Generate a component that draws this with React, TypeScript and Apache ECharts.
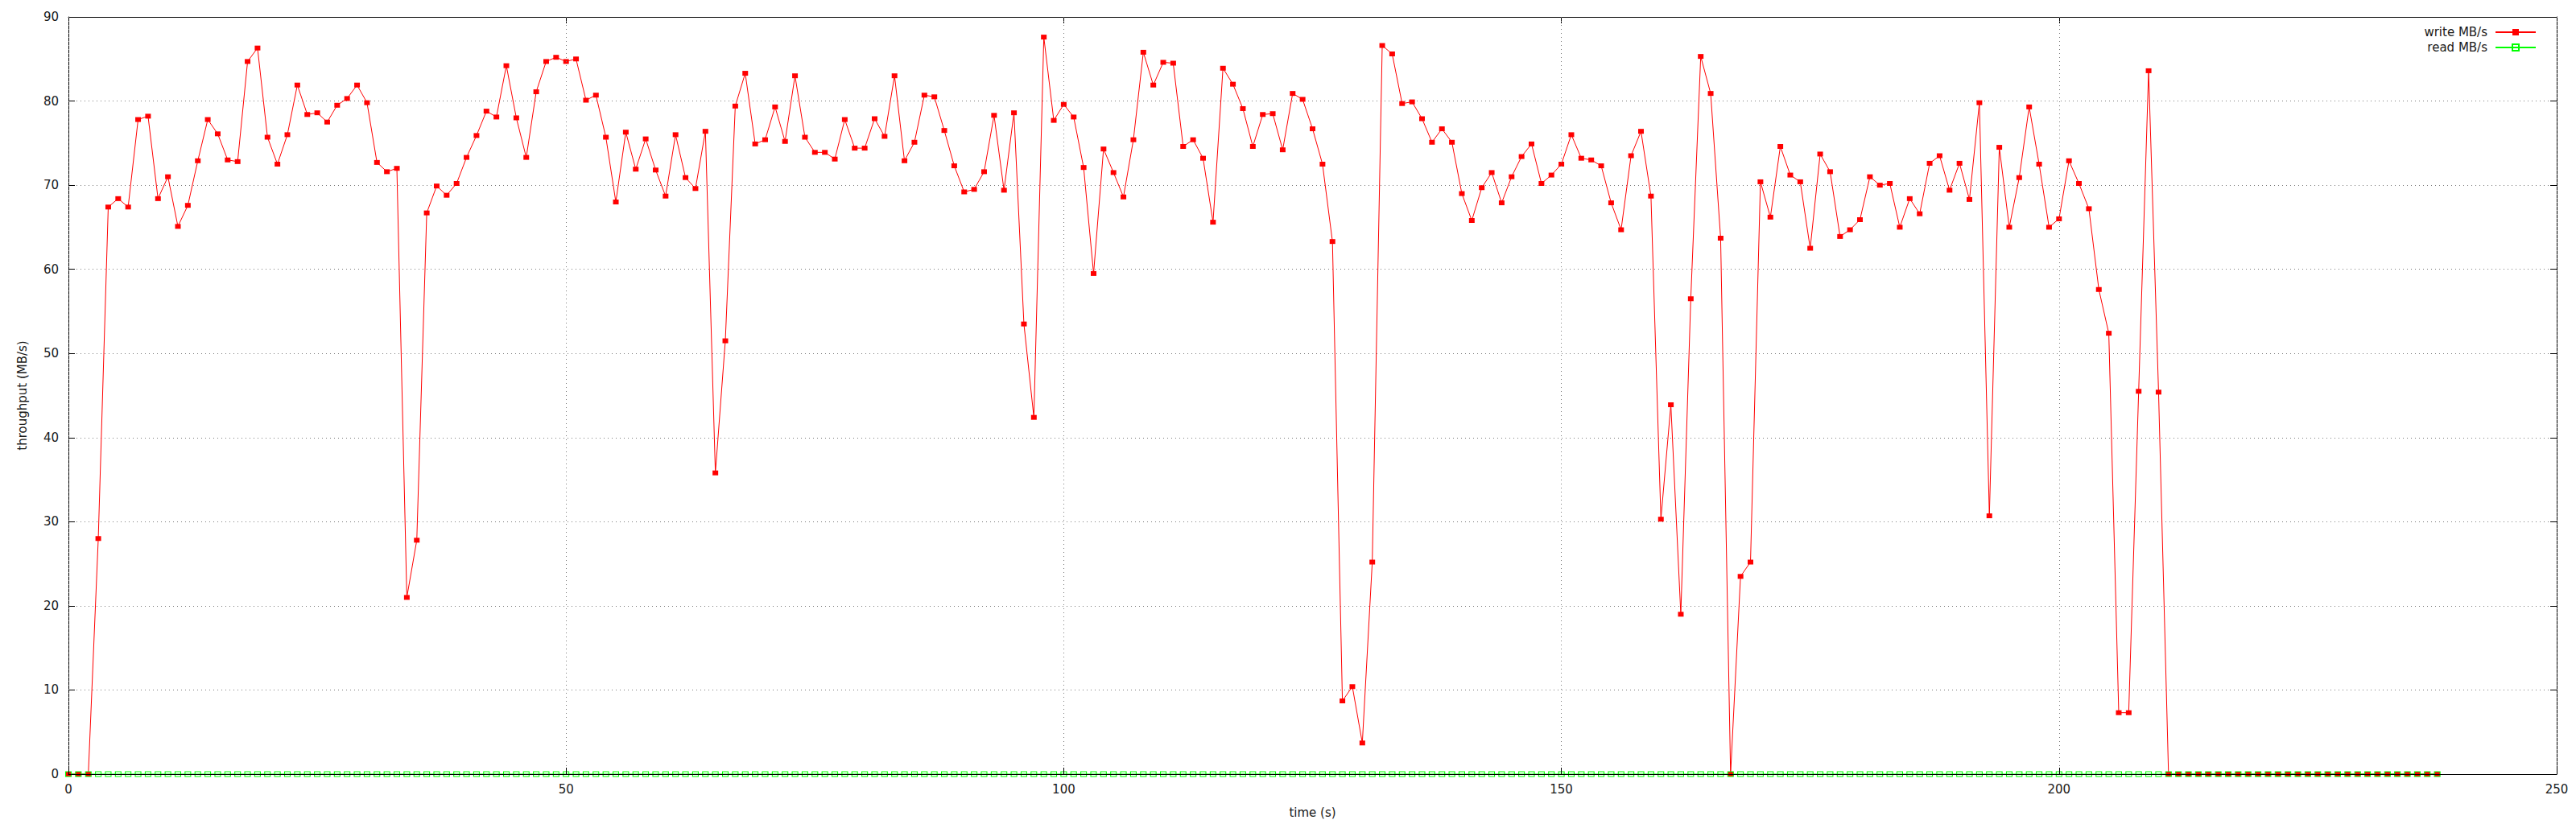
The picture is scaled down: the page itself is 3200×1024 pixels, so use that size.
import React, { useEffect, useRef } from "react";
import * as echarts from "echarts";

// write throughput per second (time index = seconds)
const writeMBs: number[] = [
  0, 0, 0, 28.0, 67.4, 68.4, 67.4, 77.8, 78.2, 68.4,
  71.0, 65.1, 67.6, 72.9, 77.8, 76.1, 73.0, 72.8, 84.7, 86.3,
  75.7, 72.5, 76.0, 81.9, 78.4, 78.6, 77.5, 79.5, 80.3, 81.9,
  79.8, 72.7, 71.6, 72.0, 21.0, 27.8, 66.7, 69.9, 68.8, 70.2,
  73.3, 75.9, 78.8, 78.1, 84.2, 78.0, 73.3, 81.1, 84.7, 85.2,
  84.7, 85.0, 80.1, 80.7, 75.7, 68.0, 76.3, 71.9, 75.5, 71.8,
  68.7, 76.0, 70.9, 69.6, 76.4, 35.8, 51.5, 79.4, 83.3, 74.9,
  75.4, 79.3, 75.2, 83.0, 75.7, 73.9, 73.9, 73.1, 77.8, 74.4,
  74.4, 77.9, 75.8, 83.0, 72.9, 75.1, 80.7, 80.5, 76.5, 72.3,
  69.2, 69.5, 71.6, 78.3, 69.4, 78.6, 53.5, 42.4, 87.6, 77.7,
  79.6, 78.1, 72.1, 59.5, 74.3, 71.5, 68.6, 75.4, 85.8, 81.9,
  84.6, 84.5, 74.6, 75.4, 73.2, 65.6, 83.9, 82.0, 79.1, 74.6,
  78.4, 78.5, 74.2, 80.9, 80.2, 76.7, 72.5, 63.3, 8.7, 10.4,
  3.7, 25.2, 86.6, 85.6, 79.7, 79.9, 77.9, 75.1, 76.7, 75.1,
  69.0, 65.8, 69.7, 71.5, 67.9, 71.0, 73.4, 74.9, 70.2, 71.2,
  72.5, 76.0, 73.2, 73.0, 72.3, 67.9, 64.7, 73.5, 76.4, 68.7,
  30.3, 43.9, 19.0, 56.5, 85.3, 80.9, 63.7, 0, 23.5, 25.2,
  70.4, 66.2, 74.6, 71.2, 70.4, 62.5, 73.7, 71.6, 63.9, 64.7,
  65.9, 71.0, 70.0, 70.2, 65.0, 68.4, 66.6, 72.6, 73.5, 69.4,
  72.6, 68.3, 79.8, 30.7, 74.5, 65.0, 70.9, 79.3, 72.5, 65.0,
  66.0, 72.9, 70.2, 67.2, 57.6, 52.4, 7.3, 7.3, 45.5, 83.6,
  45.4, 0, 0, 0, 0, 0, 0, 0, 0, 0,
  0, 0, 0, 0, 0, 0, 0, 0, 0, 0,
  0, 0, 0, 0, 0, 0, 0, 0, 0,
];

// read throughput per second
const readMBs: number[] = [
  0, 0, 0, 0, 0, 0, 0, 0, 0, 0, 0, 0, 0, 0, 0, 0, 0, 0, 0, 0,
  0, 0, 0, 0, 0, 0, 0, 0, 0, 0, 0, 0, 0, 0, 0, 0, 0, 0, 0, 0,
  0, 0, 0, 0, 0, 0, 0, 0, 0, 0, 0, 0, 0, 0, 0, 0, 0, 0, 0, 0,
  0, 0, 0, 0, 0, 0, 0, 0, 0, 0, 0, 0, 0, 0, 0, 0, 0, 0, 0, 0,
  0, 0, 0, 0, 0, 0, 0, 0, 0, 0, 0, 0, 0, 0, 0, 0, 0, 0, 0, 0,
  0, 0, 0, 0, 0, 0, 0, 0, 0, 0, 0, 0, 0, 0, 0, 0, 0, 0, 0, 0,
  0, 0, 0, 0, 0, 0, 0, 0, 0, 0, 0, 0, 0, 0, 0, 0, 0, 0, 0, 0,
  0, 0, 0, 0, 0, 0, 0, 0, 0, 0, 0, 0, 0, 0, 0, 0, 0, 0, 0, 0,
  0, 0, 0, 0, 0, 0, 0, 0, 0, 0, 0, 0, 0, 0, 0, 0, 0, 0, 0, 0,
  0, 0, 0, 0, 0, 0, 0, 0, 0, 0, 0, 0, 0, 0, 0, 0, 0, 0, 0, 0,
  0, 0, 0, 0, 0, 0, 0, 0, 0, 0, 0, 0, 0, 0, 0, 0, 0, 0, 0, 0,
  0, 0, 0, 0, 0, 0, 0, 0, 0, 0, 0, 0, 0, 0, 0, 0, 0, 0, 0,
];

const seriesNames = ["write MB/s", "read MB/s"];
const xAxisName = "time (s)";
const yAxisName = "throughput (MB/s)";

const FONT = "DejaVu Sans";
const TEXT = "#1a1a1a";

export default function App() {
  const ref = useRef<HTMLDivElement>(null);

  useEffect(() => {
    if (!ref.current) return;
    const chart = echarts.init(ref.current, undefined, { renderer: "svg" });

    const gridLine = { show: true, lineStyle: { color: "#7a7a7a", type: [1, 4], width: 1 } };
    const axisLine = { show: true, onZero: false, lineStyle: { color: "#000", width: 1 } };
    const tick = { show: true, inside: true, length: 8, lineStyle: { color: "#000", width: 1 } };

    chart.setOption({
      animation: false,
      backgroundColor: "#fff",
      textStyle: { fontFamily: FONT },
      grid: { left: 85, top: 21, right: 24, bottom: 62, containLabel: false },
      legend: {
        orient: "vertical",
        right: 44,
        top: 27,
        align: "right",
        itemWidth: 50,
        itemHeight: 10,
        itemGap: 3,
        data: seriesNames,
        textStyle: { fontFamily: FONT, fontSize: 15, color: TEXT, lineHeight: 16, padding: [0, 5, 0, 0] },
      },
      xAxis: [
        {
          type: "value",
          position: "bottom",
          min: 0,
          max: 250,
          interval: 50,
          z: 3,
          name: xAxisName,
          nameLocation: "middle",
          nameGap: 40,
          nameTextStyle: { fontFamily: FONT, fontSize: 15, color: TEXT },
          axisLine,
          axisTick: tick,
          axisLabel: { fontFamily: FONT, fontSize: 15, color: TEXT, margin: 11 },
          splitLine: gridLine,
        },
        {
          type: "value",
          position: "top",
          min: 0,
          max: 250,
          interval: 50,
          axisLine,
          axisTick: tick,
          axisLabel: { show: false },
          splitLine: { show: false },
        },
      ],
      yAxis: [
        {
          type: "value",
          position: "left",
          min: 0,
          max: 90,
          interval: 10,
          name: yAxisName,
          nameLocation: "middle",
          nameGap: 50,
          nameTextStyle: { fontFamily: FONT, fontSize: 15, color: TEXT },
          axisLine,
          axisTick: tick,
          axisLabel: { fontFamily: FONT, fontSize: 15, color: TEXT, margin: 12 },
          splitLine: gridLine,
        },
        {
          type: "value",
          position: "right",
          min: 0,
          max: 90,
          interval: 10,
          axisLine,
          axisTick: tick,
          axisLabel: { show: false },
          splitLine: { show: false },
        },
      ],
      series: [
        {
          name: seriesNames[0],
          type: "line",
          xAxisIndex: 0,
          yAxisIndex: 0,
          data: writeMBs.map((v, i) => [i, v]),
          symbol: "rect",
          symbolSize: [7, 6],
          showAllSymbol: true,
          lineStyle: { color: "#ff0000", width: 1 },
          itemStyle: { color: "#ff0000" },
          z: 2,
        },
        {
          name: seriesNames[1],
          type: "line",
          xAxisIndex: 0,
          yAxisIndex: 0,
          data: readMBs.map((v, i) => [i, v]),
          symbol: "rect",
          symbolSize: [7, 6],
          showAllSymbol: true,
          lineStyle: { color: "#00ff00", width: 1 },
          itemStyle: { color: "rgba(0,0,0,0)", borderColor: "#00ff00", borderWidth: 1 },
          z: 2,
        },
      ],
    });

    return () => chart.dispose();
  }, []);

  return (
    <div
      ref={ref}
      style={{ position: "absolute", left: 0, top: 0, width: 3200, height: 1024, background: "#fff" }}
    />
  );
}
